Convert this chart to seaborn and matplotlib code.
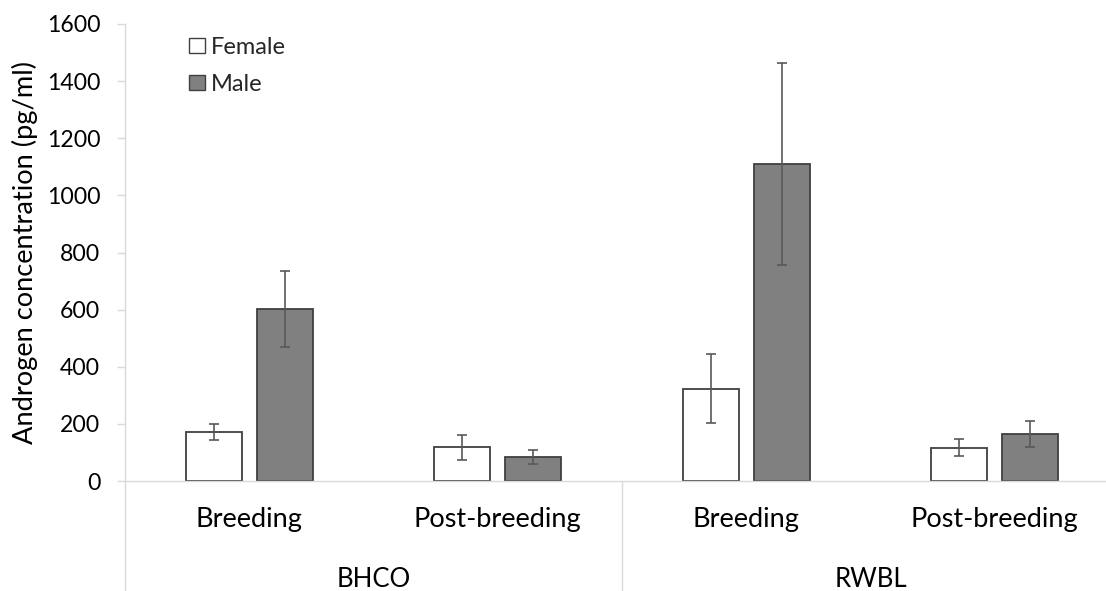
import numpy as np
import pandas as pd
import matplotlib
matplotlib.use("Agg")
import matplotlib.pyplot as plt
import matplotlib.transforms as mtransforms
from matplotlib.patches import Patch
from matplotlib.lines import Line2D
import seaborn as sns

# ---- data ----
species = ["BHCO", "RWBL"]
seasons = ["Breeding", "Post-breeding"]
sexes = ["Female", "Male"]
female_mean = [172, 118, 323, 117]
female_se = [27, 43, 121, 29]
male_mean = [602, 84, 1110, 165]
male_se = [132, 25, 355, 45]
yticks = [0, 200, 400, 600, 800, 1000, 1200, 1400, 1600]

cats = [f"{sp} {se}" for sp in species for se in seasons]
df = pd.DataFrame({
    "cat": cats * 2,
    "sex": ["Female"] * 4 + ["Male"] * 4,
    "value": female_mean + male_mean,
})
errs = {"Female": female_se, "Male": male_se}

sns.set_theme(style="white")
plt.rcParams["font.family"] = ["Lato", "DejaVu Sans"]

W, H = 1106, 591
fig = plt.figure(figsize=(W / 100, H / 100), dpi=100)
ax_left, ax_right, ax_bot, ax_top = 125, 1106, 481, 24
ax = fig.add_axes([ax_left / W, (H - ax_bot) / H, (ax_right - ax_left) / W, (ax_bot - ax_top) / H])

palette = {"Female": "#ffffff", "Male": "#808080"}
sns.barplot(data=df, x="cat", y="value", hue="sex", order=cats, hue_order=sexes,
            palette=palette, edgecolor="#404040", linewidth=1.3,
            width=0.572, gap=0.21, errorbar=None, legend=False, ax=ax)

for cont, sex in zip(ax.containers, sexes):
    xs = [r.get_x() + r.get_width() / 2 for r in cont]
    hs = [r.get_height() for r in cont]
    ax.errorbar(xs, hs, yerr=errs[sex], fmt="none", ecolor="#595959",
                elinewidth=1.2, capsize=3.6, capthick=1.2, zorder=5)

ax.set_xlim(-0.5, -0.5 + (ax_right - ax_left) / 248.5)
ax.set_ylim(0, 1600)
ax.set_yticks(yticks)
ax.set_yticklabels([str(v) for v in yticks])
ax.set_xticks([])
ax.set_xlabel("")
ax.set_ylabel("")
for s in ["top", "right"]:
    ax.spines[s].set_visible(False)
for s in ["left", "bottom"]:
    ax.spines[s].set_color("#d9d9d9")
    ax.spines[s].set_linewidth(1.0)
ax.tick_params(axis="y", which="major", left=True, length=5.8, width=1.0,
               color="#d9d9d9", pad=12, labelsize=16.6, labelcolor="black")

# category labels and separators
tr = mtransforms.blended_transform_factory(ax.transData, fig.transFigure)
for i, c in enumerate(cats):
    se = c.split(" ", 1)[1]
    ax.text(i, (H - 527) / H, se, transform=tr, ha="center", va="baseline",
            fontsize=19.5, color="black", clip_on=False)
for j, sp in enumerate(species):
    ax.text(j * 2 + 0.5, (H - 587) / H, sp, transform=tr, ha="center", va="baseline",
            fontsize=18.5, color="black", clip_on=False)
for xv in [-0.5, 1.5, 3.5]:
    ln = Line2D([xv, xv], [0, (H - ax_bot) / H], transform=tr, color="#d9d9d9",
                linewidth=1.0, clip_on=False)
    fig.add_artist(ln)

fig.text(25 / W, (H - 253) / H, "Androgen concentration (pg/ml)", rotation=90,
         ha="center", va="center", fontsize=19.6, color="black")

handles = [Patch(facecolor=palette[s], edgecolor="#404040", linewidth=1.0) for s in sexes]
leg = fig.legend(handles, sexes, loc="upper left", bbox_to_anchor=(189 / W, (H - 37) / H),
                 frameon=False, fontsize=17, handlelength=0.68, handleheight=0.6,
                 handletextpad=0.25, labelspacing=0.68, borderaxespad=0, borderpad=0)

fig.savefig("out.png", dpi=100, facecolor="white")
